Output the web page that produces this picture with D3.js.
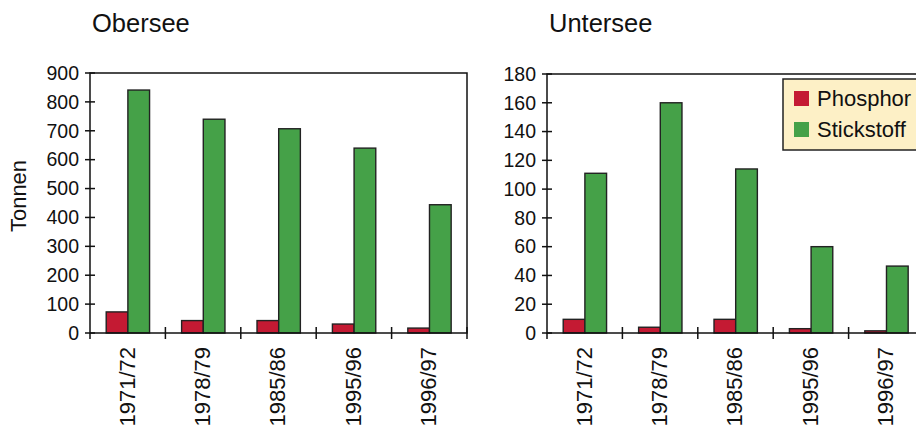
<!DOCTYPE html>
<html><head><meta charset="utf-8">
<script src="https://cdn.jsdelivr.net/npm/d3@7/dist/d3.min.js"></script>
<style>
body{margin:0;background:#fff;}
svg{display:block;font-family:"Liberation Sans",Arial,sans-serif;}
</style></head>
<body><svg id="c" width="916" height="428"></svg>
<script>
const categories = ["1971/72","1978/79","1985/86","1995/96","1996/97"];
const series = ["Phosphor","Stickstoff"];
const oberseePhosphor = [73, 43, 43, 31, 17];
const oberseeStickstoff = [841, 740, 707, 640, 444];
const unterseePhosphor = [9.5, 4, 9.5, 3, 1.5];
const unterseeStickstoff = [111, 160, 114, 60, 46.5];
const oberseeTicks = [0,100,200,300,400,500,600,700,800,900];
const unterseeTicks = [0,20,40,60,80,100,120,140,160,180];
const colors = {Phosphor:"#c41a33", Stickstoff:"#45a148"};

const svg = d3.select("#c");

function panel(opt){
  const g = svg.append("g");
  const x = d3.scaleBand().domain(categories).range([opt.x0, opt.x0 + 377]).paddingInner(0).paddingOuter(0);
  const y = d3.scaleLinear().domain([0, opt.max]).range([opt.y1, opt.y0]);
  const bw = x.bandwidth();
  const x1 = d3.scaleBand().domain(series).range([bw*0.215, bw*0.79]).padding(0);

  g.append("text").attr("x", opt.x0 + 2).attr("y", 32).attr("font-size", 25.5).attr("fill","#111").text(opt.title);

  const data = categories.map((c,i)=>({c, vals:[{s:"Phosphor", v:opt.p[i]},{s:"Stickstoff", v:opt.n[i]}]}));
  const grp = g.selectAll("g.cat").data(data).join("g").attr("transform", d=>`translate(${x(d.c)},0)`);
  grp.selectAll("rect").data(d=>d.vals).join("rect")
    .attr("x", d=>x1(d.s)).attr("width", x1.bandwidth())
    .attr("y", d=>y(d.v)).attr("height", d=>y(0)-y(d.v))
    .attr("fill", d=>colors[d.s]).attr("stroke","#222").attr("stroke-width",1.4);

  g.append("rect").attr("x", opt.x0).attr("y", opt.y0).attr("width", 377).attr("height", opt.y1-opt.y0)
    .attr("fill","none").attr("stroke","#111").attr("stroke-width",1.5);
  g.append("line").attr("x1",opt.x0).attr("x2",opt.x0).attr("y1",opt.y1).attr("y2",opt.y1+6).attr("stroke","#111").attr("stroke-width",1.5);

  const yt = g.selectAll("g.yt").data(opt.ticks).join("g").attr("transform", d=>`translate(${opt.x0},${y(d)})`);
  yt.append("line").attr("x1",-5).attr("x2",5).attr("stroke","#111").attr("stroke-width",1.5);
  yt.append("text").attr("x",-11).attr("dy","0.35em").attr("text-anchor","end").attr("font-size",19.5).attr("fill","#111").text(d=>d);

  const bounds = categories.map(c=>x(c)).concat([x(categories[categories.length-1])+bw]).slice(1);
  g.selectAll("line.ct").data(bounds).join("line")
    .attr("x1",d=>d).attr("x2",d=>d).attr("y1",opt.y1-6).attr("y2",opt.y1+6)
    .attr("stroke","#111").attr("stroke-width",1.5);

  g.selectAll("text.cl").data(categories).join("text")
    .attr("transform", d=>`translate(${x(d)+bw/2 - 1},${opt.y1+14}) rotate(-90)`)
    .attr("dy","0.36em").attr("text-anchor","end").attr("font-size",22).attr("fill","#111").text(d=>d);
  return {x,y};
}

panel({x0:90, y0:73, y1:333, max:900, ticks:oberseeTicks, title:"Obersee", p:oberseePhosphor, n:oberseeStickstoff});
panel({x0:547, y0:74, y1:333, max:180, ticks:unterseeTicks, title:"Untersee", p:unterseePhosphor, n:unterseeStickstoff});

svg.append("text").attr("transform","translate(26,196) rotate(-90)").attr("text-anchor","middle")
  .attr("font-size",22).attr("fill","#111").text("Tonnen");

const lg = svg.append("g").attr("transform","translate(783,79)");
lg.append("rect").attr("width",150).attr("height",71).attr("fill","#fdf0c6").attr("stroke","#222").attr("stroke-width",1.5);
const li = lg.selectAll("g.li").data(series).join("g").attr("transform",(d,i)=>`translate(11,${12+i*31})`);
li.append("rect").attr("width",15).attr("height",15).attr("fill",d=>colors[d]);
li.append("text").attr("x",23).attr("y",7.5).attr("dy","0.36em").attr("font-size",22).attr("fill","#111").text(d=>d);
</script></body></html>
